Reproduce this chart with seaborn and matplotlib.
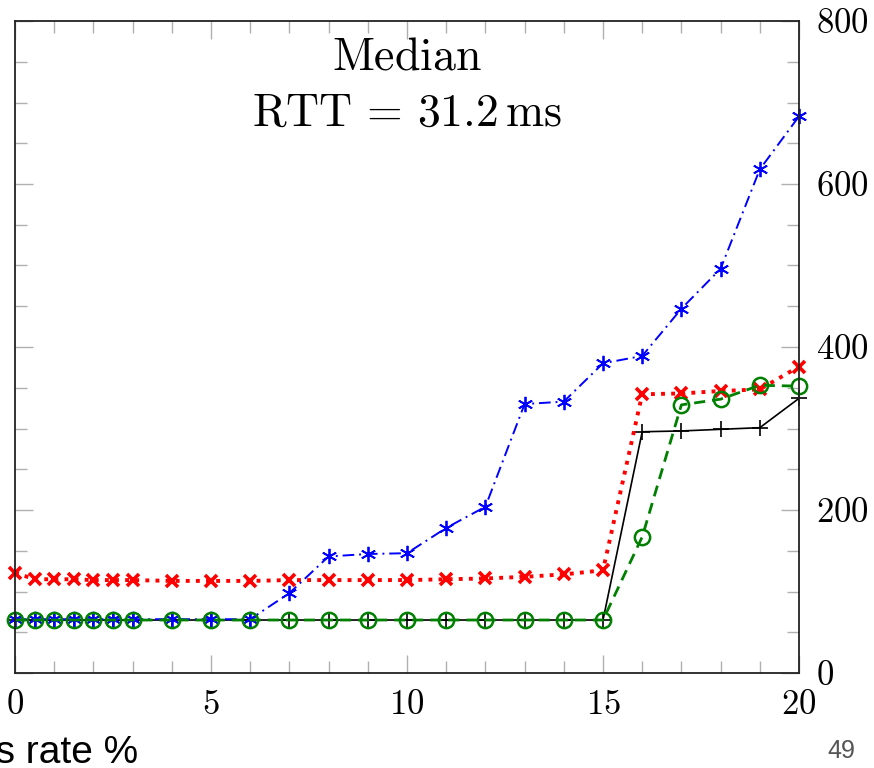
import matplotlib
matplotlib.use("Agg")

import matplotlib.pyplot as plt
import numpy as np
import pandas as pd
import seaborn as sns
from matplotlib.ticker import MultipleLocator

# ─────────────────────────────────────────────────────────────────────────────
# DATA  (median RTT in ms vs. loss rate in %)
# ─────────────────────────────────────────────────────────────────────────────
loss_rate = [0, 0.5, 1, 1.5, 2, 2.5, 3, 4, 5, 6, 7, 8, 9, 10,
             11, 12, 13, 14, 15, 16, 17, 18, 19, 20]

rtt_plus = [65, 65, 65, 65, 65, 65, 65, 65, 65, 65, 65, 65, 65, 65,
            65, 65, 65, 65, 65, 296, 297, 299, 301, 337]
rtt_cross = [123, 115, 115, 115, 114, 114, 114, 113, 113, 113, 114, 114, 114, 114,
             115, 116, 118, 121, 126, 342, 343, 346, 348, 376]
rtt_star = [66, 66, 66, 66, 66, 66, 66, 66, 66, 66, 98, 143, 146, 147,
            178, 204, 330, 333, 380, 389, 447, 496, 618, 683]
rtt_circle = [65, 65, 65, 65, 65, 65, 65, 65, 65, 65, 65, 65, 65, 65,
              65, 65, 65, 65, 65, 167, 329, 336, 353, 352]

x_ticks = [0, 5, 10, 15, 20]
y_ticks = [0, 200, 400, 600, 800]

sns.set_theme(style="white")
plt.rcParams["font.family"] = "serif"
plt.rcParams["font.serif"] = ["cmr10"]
plt.rcParams["mathtext.fontset"] = "cm"
plt.rcParams["axes.formatter.use_mathtext"] = True
plt.rcParams["text.color"] = "black"
plt.rcParams["xtick.labelcolor"] = "black"
plt.rcParams["ytick.labelcolor"] = "black"

df = pd.DataFrame({"loss": loss_rate, "plus": rtt_plus, "cross": rtt_cross,
                   "star": rtt_star, "circle": rtt_circle})

fig = plt.figure(figsize=(8.74, 7.68), dpi=100)
ax = fig.add_axes([15 / 874, 95 / 768, 784 / 874, 652 / 768])

common = dict(x="loss", data=df, ax=ax, estimator=None, sort=False, clip_on=False)
sns.lineplot(y="plus", color="black", linestyle="-", linewidth=1.2,
             marker="+", markersize=11, markeredgecolor="black",
             markeredgewidth=1.2, **common)
sns.lineplot(y="cross", color="red", linestyle=(0, (1, 1.6)), linewidth=2.8,
             marker="x", markersize=8.5, markeredgecolor="red",
             markeredgewidth=2.6, **common)
sns.lineplot(y="star", color="blue", linestyle=(0, (6, 2.5, 1, 2.5)), linewidth=1.4,
             marker=(6, 2, 0), markersize=11, markeredgecolor="blue",
             markeredgewidth=1.3, **common)
sns.lineplot(y="circle", color="green", linestyle=(0, (4, 2.5)), linewidth=2.0,
             marker="o", markersize=11, markerfacecolor="none",
             markeredgecolor="green", markeredgewidth=1.8, **common)

ax.set_xlim(0, 20)
ax.set_ylim(0, 800)
ax.set_xlabel("")
ax.set_ylabel("")

ax.set_xticks(x_ticks)
ax.set_yticks(y_ticks)
ax.xaxis.set_minor_locator(MultipleLocator(1))
ax.yaxis.set_minor_locator(MultipleLocator(50))
ax.yaxis.tick_right()
ax.tick_params(axis="both", which="both", direction="in", color="#b0b0b0",
               width=1.0, top=True, bottom=True, left=True, right=True,
               labelleft=False, labelright=True, labelsize=25, pad=12)
ax.tick_params(which="major", length=13)
ax.tick_params(which="minor", length=8.5)

for sp in ax.spines.values():
    sp.set_color("#222222")
    sp.set_linewidth(1.3)

ax.text(0.5, 0.926, r"$\mathrm{Median}$", transform=ax.transAxes,
        ha="center", va="baseline", fontsize=33)
ax.text(0.5, 0.839, r"$\mathrm{RTT}\,=\,31.2\,\mathrm{ms}$", transform=ax.transAxes,
        ha="center", va="baseline", fontsize=33)

# slide text, cut at the left edge as in the source
fig.text(-0.0765, 0.0065, "Loss rate %", family="Liberation Sans", fontsize=28,
         ha="left", va="baseline", color="black")
fig.text(0.963, 0.013, "49", family="Liberation Sans", fontsize=18,
         ha="center", va="baseline", color="#555555")

plt.savefig("out.png", dpi=100)
plt.close()
